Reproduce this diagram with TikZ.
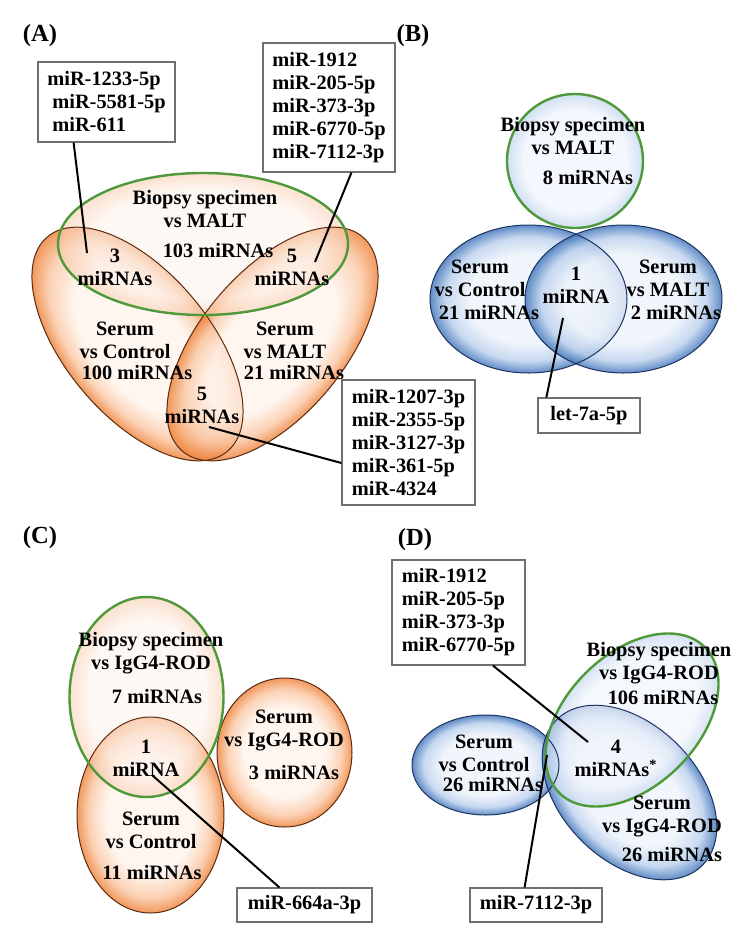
\documentclass[tikz,border=0pt]{standalone}
\usepackage{fontspec}
\setmainfont{Liberation Serif}

\definecolor{orin}{HTML}{FFF4EC}
\definecolor{ormid}{HTML}{FAC6A2}
\definecolor{orout}{HTML}{EE7F34}
\definecolor{orpale}{HTML}{FEF3EC}
\definecolor{orpalerim}{HTML}{F8CDB0}
\definecolor{bluin}{HTML}{EEF3FB}
\definecolor{blumid}{HTML}{B9CFEC}
\definecolor{bluout}{HTML}{3A70B8}
\definecolor{blupale}{HTML}{F1F5FC}
\definecolor{blupalerim}{HTML}{C5D7EF}
\definecolor{venngreen}{HTML}{4E9A3A}
\definecolor{orline}{HTML}{5A2A12}
\definecolor{bluline}{HTML}{1D355E}
\definecolor{boxline}{HTML}{707070}

\pgfdeclareradialshading{orangeball}{\pgfpoint{0bp}{0bp}}{color(0bp)=(orin); color(15bp)=(orin); color(21bp)=(ormid); color(25bp)=(orout); color(50bp)=(orout)}
\pgfdeclareradialshading{blueball}{\pgfpoint{0bp}{0bp}}{color(0bp)=(bluin); color(15bp)=(bluin); color(21bp)=(blumid); color(25bp)=(bluout); color(50bp)=(bluout)}
\pgfdeclareradialshading{paleorange}{\pgfpoint{0bp}{0bp}}{color(0bp)=(orpale); color(19bp)=(orpale); color(25bp)=(orpalerim); color(50bp)=(orpalerim)}
\pgfdeclareradialshading{paleblue}{\pgfpoint{0bp}{0bp}}{color(0bp)=(blupale); color(19bp)=(blupale); color(25bp)=(blupalerim); color(50bp)=(blupalerim)}

\begin{document}
\begin{tikzpicture}[x=0.5pt, y=0.5pt,
    every node/.style={font=\fontsize{10.2}{11.5}\selectfont\bfseries, inner sep=0pt, align=center},
    tag/.style={font=\fontsize{12.3}{14}\selectfont\bfseries},
    listbox/.style={draw=boxline, line width=0.6pt, fill=white, align=left},
    pointer/.style={line width=1pt},
    rimorange/.style={draw=orline, line width=0.5pt},
    rimblue/.style={draw=bluline, line width=0.5pt},
    rimgreen/.style={draw=venngreen, line width=1.2pt}]

    \useasboundingbox (0,0) rectangle (749,-938);

    % (A)
    \node[tag] (labA) at (40,-36) {(A)};
    \begin{scope}[transform canvas={rotate around={-50:(137.5,-344)}}]
        \shade[shading=orangeball, fill opacity=0.8] (137.5,-344) ellipse (140 and 72);
    \end{scope}
    \begin{scope}[transform canvas={rotate around={50:(272.5,-344)}}]
        \shade[shading=orangeball, fill opacity=0.8] (272.5,-344) ellipse (140 and 72);
    \end{scope}
    \shade[shading=paleorange, fill opacity=0.6] (203,-244) ellipse (145 and 71);
    \draw[rimorange, rotate around={-50:(137.5,-344)}] (137.5,-344) ellipse (140 and 72);
    \draw[rimorange, rotate around={50:(272.5,-344)}] (272.5,-344) ellipse (140 and 72);
    \draw[rimgreen] (203,-244) ellipse (145 and 71);

    \node (aBio) at (205,-209) {Biopsy specimen\\vs MALT};
    \node (aBioN) at (218,-251) {103 miRNAs};
    \node (aBC) at (115,-267.5) {3\\miRNAs};
    \node (aBM) at (292,-267.5) {5\\miRNAs};
    \node (aCtl) at (125,-340.5) {Serum\\vs Control};
    \node (aCtlN) at (137,-373) {100 miRNAs};
    \node (aMlt) at (285,-340.5) {Serum\\vs MALT};
    \node (aMltN) at (294,-373) {21 miRNAs};
    \node (aCM) at (202,-405) {5\\miRNAs};

    \node[listbox, minimum width=68.5pt, minimum height=40pt] (boxa1) at (106.5,-102) {miR-1233-5p\\\hspace{2.5pt}miR-5581-5p\\\hspace{2.5pt}miR-611};
    \node[listbox, minimum width=66pt, minimum height=64.5pt] (boxa2) at (329,-107.5) {miR-1912\\miR-205-5p\\miR-373-3p\\miR-6770-5p\\miR-7112-3p};
    \node[listbox, minimum width=66.5pt, minimum height=62.5pt] (boxa3) at (408.5,-442.5) {miR-1207-3p\\miR-2355-5p\\miR-3127-3p\\miR-361-5p\\miR-4324};
    \coordinate (tipa1) at (87,-253);
    \coordinate (tipa2) at (315,-262);
    \coordinate (tipa3) at (209,-427);
    \draw[pointer] (boxa1.-129) -- (tipa1);
    \draw[pointer] (boxa2.-71) -- (tipa2);
    \draw[pointer] (boxa3.-163) -- (tipa3);

    % (B)
    \node[tag] (labB) at (413,-36) {(B)};
    \shade[shading=blueball, fill opacity=0.8] (528.5,-299) ellipse (98.5 and 74);
    \shade[shading=blueball, fill opacity=0.8] (623.5,-299) ellipse (98.5 and 74);
    \shade[shading=paleblue, fill opacity=0.8] (575,-161) ellipse (68 and 67);
    \draw[rimblue] (528.5,-299) ellipse (98.5 and 74);
    \draw[rimblue] (623.5,-299) ellipse (98.5 and 74);
    \draw[rimgreen] (575,-161) ellipse (68 and 67);

    \node (bBio) at (573,-136.5) {Biopsy specimen\\vs MALT};
    \node (bBioN) at (588,-178) {8 miRNAs};
    \node (bCtl) at (480,-278.5) {Serum\\vs Control};
    \node (bCtlN) at (489,-313) {21 miRNAs};
    \node (bAll) at (576,-285.5) {1\\miRNA};
    \node (bMlt) at (668,-278.5) {Serum\\vs MALT};
    \node (bMltN) at (676,-313) {2 miRNAs};

    \node[listbox, minimum width=51pt, minimum height=17.5pt] (boxb) at (589,-415.5) {let-7a-5p};
    \coordinate (tipb) at (563,-318);
    \draw[pointer] (boxb.157) -- (tipb);

    % (C)
    \node[tag] (labC) at (40,-538) {(C)};
    \shade[shading=orangeball, fill opacity=0.8] (150.5,-815) ellipse (73.5 and 98);
    \shade[shading=orangeball, fill opacity=0.8] (284.5,-752.5) ellipse (67.5 and 74.5);
    \shade[shading=paleorange, fill opacity=0.6] (146.5,-697) ellipse (77 and 100);
    \draw[rimorange] (150.5,-815) ellipse (73.5 and 98);
    \draw[rimorange] (284.5,-752.5) ellipse (67.5 and 74.5);
    \draw[rimgreen] (146.5,-697) ellipse (77 and 100);

    \node (cBio) at (151,-653.5) {Biopsy specimen\\vs IgG4-ROD};
    \node (cBioN) at (157,-697) {7 miRNAs};
    \node (cBC) at (146,-758.5) {1\\miRNA};
    \node (cCtl) at (151,-830) {Serum\\vs Control};
    \node (cCtlN) at (152,-873) {11 miRNAs};
    \node (cRod) at (284,-730) {Serum\\vs IgG4-ROD};
    \node (cRodN) at (294,-773) {3 miRNAs};

    \node[listbox, minimum width=67.5pt, minimum height=17pt] (boxc) at (304.5,-905) {miR-664a-3p};
    \coordinate (tipc) at (152,-775);
    \draw[pointer] (boxc.145) -- (tipc);

    % (D)
    \node[tag] (labD) at (415,-540) {(D)};
    \shade[shading=blueball, fill opacity=0.8] (485.5,-765) ellipse (73.5 and 50);
    \begin{scope}[transform canvas={rotate around={-45:(629.5,-792.5)}}]
        \shade[shading=blueball, fill opacity=0.8] (629.5,-792.5) ellipse (103 and 68);
    \end{scope}
    \begin{scope}[transform canvas={rotate around={45:(632,-720)}}]
        \shade[shading=paleblue, fill opacity=0.7] (632,-720) ellipse (103 and 66);
    \end{scope}
    \draw[rimblue] (485.5,-765) ellipse (73.5 and 50);
    \draw[rimblue, rotate around={-45:(629.5,-792.5)}] (629.5,-792.5) ellipse (103 and 68);
    \draw[rimgreen, rotate around={45:(632,-720)}] (632,-720) ellipse (103 and 66);

    \node (dBio) at (659,-663.5) {Biopsy specimen\\vs IgG4-ROD};
    \node (dBioN) at (663,-698) {106 miRNAs};
    \node (dAll) at (616,-758.5) {4\\miRNAs\textsuperscript{*}};
    \node (dRod) at (662,-816.5) {Serum\\vs IgG4-ROD};
    \node (dRodN) at (672,-855) {26 miRNAs};
    \node (dCtl) at (484,-753.5) {Serum\\vs Control};
    \node (dCtlN) at (493,-785) {26 miRNAs};

    \node[listbox, minimum width=66.5pt, minimum height=52.5pt] (boxd1) at (458.5,-612.5) {miR-1912\\miR-205-5p\\miR-373-3p\\miR-6770-5p};
    \node[listbox, minimum width=66pt, minimum height=17pt] (boxd2) at (536,-905) {miR-7112-3p};
    \coordinate (tipd1) at (588,-742);
    \coordinate (tipd2) at (547,-755);
    \draw[pointer] (boxd1.-57) -- (tipd1);
    \draw[pointer] (boxd2.123) -- (tipd2);

\end{tikzpicture}
\end{document}
